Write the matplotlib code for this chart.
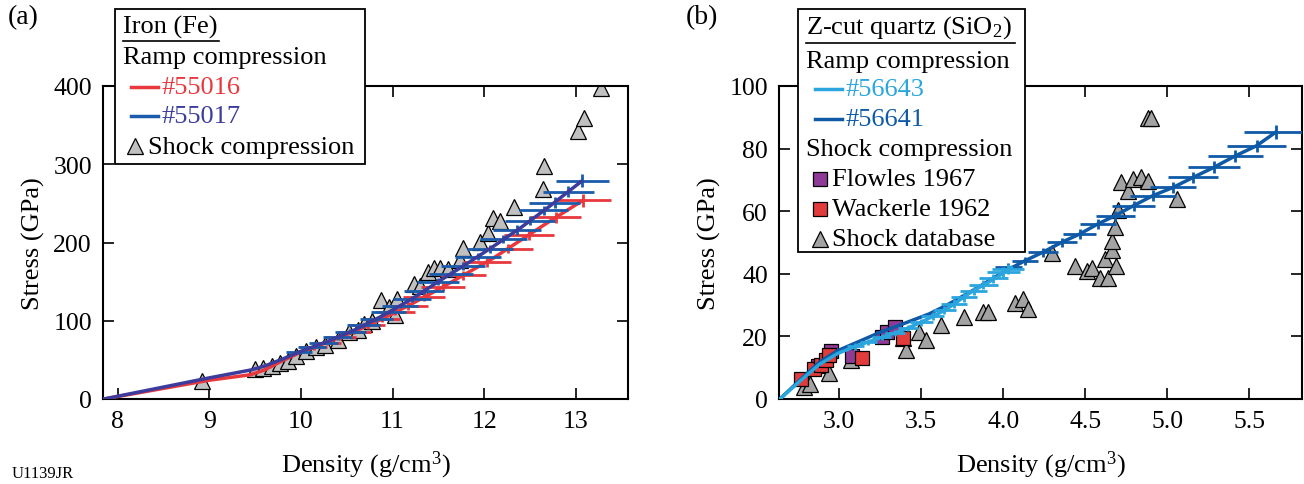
import matplotlib
matplotlib.use("Agg")
import matplotlib.pyplot as plt
from matplotlib.lines import Line2D
from matplotlib.patches import Rectangle

plt.rcParams['font.family'] = ['Liberation Serif', 'DejaVu Serif']
plt.rcParams['mathtext.fontset'] = 'custom'
plt.rcParams['mathtext.rm'] = 'Liberation Serif'
plt.rcParams['mathtext.it'] = 'Liberation Serif:italic'

# ---------------- (a) iron ----------------
fe_dens_55016 = [7.85, 9.0, 9.45, 9.6, 9.8, 10.0, 10.3, 10.6, 10.9, 11.2, 11.5, 11.8, 12.1, 12.4, 12.7, 13.08]
fe_stress_55016 = [0, 24, 31, 37, 49, 60, 73, 87, 103, 121, 140, 160, 180, 203, 226, 254]
fe_dens_55017 = [7.85, 9.0, 9.45, 9.6, 9.8, 10.0, 10.3, 10.6, 10.9, 11.2, 11.5, 11.8, 12.1, 12.4, 12.7, 13.06]
fe_stress_55017 = [0, 27, 37, 42, 51, 61, 74, 89, 107, 127, 150, 172, 195, 219, 245, 278]

fe_bar_dens_55016 = [13.08, 12.78, 12.49, 12.26, 12.03, 11.77, 11.55, 11.34, 11.17, 11.03, 10.88, 10.73, 10.58, 10.43, 10.28, 10.14]
fe_bar_stress_55016 = [254, 232, 210, 192, 175, 158, 143, 130, 119, 111, 102, 94, 86, 79, 72, 66]
fe_bar_xerr_55016 = [0.30, 0.28, 0.27, 0.27, 0.26, 0.25, 0.24, 0.23, 0.22, 0.21, 0.20, 0.19, 0.18, 0.17, 0.16, 0.15]
fe_bar_yerr_55016 = [8, 7, 7, 6, 6, 6, 5, 5, 5, 4, 4, 4, 3, 3, 3, 3]

fe_bar_dens_55017 = [13.07, 12.92, 12.77, 12.65, 12.50, 12.36, 12.21, 12.06, 11.93, 11.77, 11.64, 11.50,
                     11.34, 11.21, 11.08, 10.96, 10.82, 10.68, 10.54, 10.40, 10.25, 10.12, 9.98]
fe_bar_stress_55017 = [279, 265, 251, 241, 228, 216, 204, 192, 182, 170, 160, 150,
                       138, 128, 119, 111, 102, 94, 86, 79, 72, 66, 60]
fe_bar_xerr_55017 = [0.29, 0.28, 0.28, 0.27, 0.27, 0.26, 0.26, 0.25, 0.25, 0.24, 0.24, 0.23,
                     0.22, 0.21, 0.20, 0.19, 0.18, 0.18, 0.17, 0.16, 0.16, 0.15, 0.14]
fe_bar_yerr_55017 = [8, 7, 7, 6, 6, 6, 5, 5, 5, 5, 4, 4, 4, 4, 3, 3, 3, 3, 3, 3, 2, 2, 2]

fe_shock_dens = [8.92, 9.50, 9.59, 9.68, 9.77, 9.86, 9.95, 10.06, 10.17, 10.26, 10.40, 10.53, 10.62,
                 10.69, 10.78, 10.87, 10.96, 11.03, 11.05, 11.23, 11.30, 11.39, 11.45, 11.52, 11.61,
                 11.74, 11.77, 11.95, 12.04, 12.10, 12.17, 12.33, 12.64, 12.65, 13.02, 13.09, 13.27]
fe_shock_stress = [23, 38, 40, 42, 46, 48, 55, 61, 67, 69, 75, 86, 88,
                   96, 100, 126, 117, 107, 128, 147, 145, 162, 168, 168, 166,
                   178, 193, 201, 212, 231, 227, 245, 269, 298, 342, 359, 397]

# ---------------- (b) quartz ----------------
q_dens_56643 = [2.64, 2.78, 2.88, 2.99, 3.11, 3.25, 3.39, 3.5, 3.65, 3.8, 3.95, 4.05]
q_stress_56643 = [0, 6.5, 11, 14.5, 17, 19.5, 22, 24.5, 28.5, 34, 38.5, 42]
q_dens_56641 = [2.64, 2.78, 2.88, 2.99, 3.11, 3.25, 3.39, 3.55, 3.65, 3.8, 4.0, 4.134, 4.242, 4.358,
                4.466, 4.576, 4.683, 4.795, 4.913, 5.035, 5.157, 5.283, 5.415, 5.543, 5.659]
q_stress_56641 = [0, 6.9, 11.7, 15.4, 18.1, 21.3, 24, 27.2, 29.8, 34.2, 40.5, 44.2, 46.9, 50.1,
                  52.7, 55.9, 58.6, 61.8, 65.0, 67.6, 70.8, 74.0, 77.7, 80.9, 85.2]

q_bar_dens_56643 = [3.10, 3.18, 3.26, 3.34, 3.42, 3.50, 3.57, 3.64, 3.70, 3.76, 3.82, 3.88, 3.94, 4.00, 4.03]
q_bar_stress_56643 = [16.8, 18.3, 19.8, 21.2, 22.7, 24.5, 26.5, 28.5, 30.5, 32.5, 34.5, 36.5, 38.5, 40.5, 41.5]
q_bar_xerr_56643 = [0.05, 0.05, 0.06, 0.06, 0.06, 0.07, 0.07, 0.07, 0.08, 0.08, 0.08, 0.09, 0.09, 0.10, 0.10]
q_bar_yerr_56643 = [1, 1, 1, 1, 1, 1.2, 1.2, 1.2, 1.4, 1.4, 1.4, 1.5, 1.5, 1.6, 1.6]

q_bar_dens_56641 = [5.659, 5.543, 5.415, 5.283, 5.157, 5.035, 4.913, 4.795, 4.683, 4.576,
                    4.466, 4.358, 4.242, 4.134, 4.032]
q_bar_stress_56641 = [85.2, 80.9, 77.7, 74.0, 70.8, 67.6, 65.0, 61.8, 58.6, 55.9,
                      52.7, 50.1, 46.9, 44.2, 42.1]
q_bar_xerr_56641 = [0.19, 0.18, 0.17, 0.16, 0.15, 0.14, 0.14, 0.13, 0.12, 0.11,
                    0.10, 0.09, 0.09, 0.08, 0.08]
q_bar_yerr_56641 = [2.2, 2.0, 2.0, 1.9, 1.8, 1.8, 1.7, 1.6, 1.6, 1.5, 1.5, 1.4, 1.4, 1.3, 1.3]

flowles_dens = [2.87, 2.95, 3.08, 3.26, 3.29, 3.34]
flowles_stress = [10.5, 15.2, 13.6, 19.9, 21.5, 23.1]
wackerle_dens = [2.77, 2.85, 2.89, 2.92, 2.94, 3.14, 3.39]
wackerle_stress = [6.3, 9.5, 11, 12.5, 14.2, 13.1, 19.4]

q_shock_dens = [2.786, 2.824, 2.937, 3.076, 3.39, 3.41, 3.49, 3.53, 3.62, 3.76, 3.88, 3.91, 4.07,
                4.12, 4.15, 4.30, 4.44, 4.51, 4.54, 4.59, 4.62, 4.64, 4.66, 4.66, 4.68, 4.69,
                4.70, 4.72, 4.76, 4.79, 4.84, 4.88, 5.06, 4.88, 4.90]
q_shock_stress = [3.7, 4.7, 8.4, 12.6, 19.4, 15.7, 21.5, 18.9, 23.8, 26.2, 27.8, 27.8, 30.7,
                  32.0, 28.6, 46.7, 42.5, 40.9, 42.0, 38.8, 44.6, 38.8, 47.7, 50.4, 55.1, 42.5,
                  60.3, 69.3, 66.6, 70.3, 70.8, 69.8, 64.0, 89.7, 89.7]

red = '#e8383d'
navy = '#3c3c9c'
blue = '#1a5cab'
lblue = '#2aa5de'
dblue = '#0e5aa7'
purple = '#8e3b97'
sqred = '#e23b3b'

W, H = 1304, 485
fig = plt.figure(figsize=(W / 100, H / 100), dpi=100)


def fx(x):
    return x / W


def fy(y):
    return 1 - y / H


axa = fig.add_axes([fx(103), fy(400), (628 - 103) / W, (400 - 87) / H])
axb = fig.add_axes([fx(779), fy(400), (1302 - 779) / W, (400 - 87) / H])

# panel a
axa.plot(fe_shock_dens, fe_shock_stress, '^', ms=11, mfc='#c0c0c0', mec='black', mew=0.9, zorder=2)
axa.errorbar(fe_bar_dens_55016, fe_bar_stress_55016, xerr=fe_bar_xerr_55016, yerr=fe_bar_yerr_55016,
             fmt='none', ecolor=red, elinewidth=2, capsize=0, zorder=3)
axa.plot(fe_dens_55016, fe_stress_55016, color=red, lw=2.5, zorder=3)
axa.errorbar(fe_bar_dens_55017, fe_bar_stress_55017, xerr=fe_bar_xerr_55017, yerr=fe_bar_yerr_55017,
             fmt='none', ecolor=blue, elinewidth=2, capsize=0, zorder=4)
axa.plot(fe_dens_55017, fe_stress_55017, color=navy, lw=2.5, zorder=4)
axa.set_xlim(7.84, 13.57)
axa.set_ylim(0, 400)
axa.set_xticks([8, 9, 10, 11, 12, 13])
axa.set_yticks([0, 100, 200, 300, 400])

# panel b
axb.plot(q_shock_dens, q_shock_stress, '^', ms=11, mfc='#a3a3a3', mec='black', mew=0.9, zorder=2)
axb.plot(flowles_dens, flowles_stress, 's', ms=10, mfc=purple, mec='black', mew=0.9, zorder=2)
axb.plot(wackerle_dens, wackerle_stress, 's', ms=10, mfc=sqred, mec='black', mew=0.9, zorder=2)
axb.errorbar(q_bar_dens_56641, q_bar_stress_56641, xerr=q_bar_xerr_56641, yerr=q_bar_yerr_56641,
             fmt='none', ecolor=dblue, elinewidth=2, capsize=0, zorder=3)
axb.plot(q_dens_56641, q_stress_56641, color=dblue, lw=2.5, zorder=3)
axb.errorbar(q_bar_dens_56643, q_bar_stress_56643, xerr=q_bar_xerr_56643, yerr=q_bar_yerr_56643,
             fmt='none', ecolor=lblue, elinewidth=2, capsize=0, zorder=4)
axb.plot(q_dens_56643, q_stress_56643, color=lblue, lw=2.5, zorder=4)
axb.set_xlim(2.635, 5.82)
axb.set_ylim(0, 100)
axb.set_xticks([3.0, 3.5, 4.0, 4.5, 5.0, 5.5])
axb.set_xticklabels(['3.0', '3.5', '4.0', '4.5', '5.0', '5.5'])
axb.set_yticks([0, 20, 40, 60, 80, 100])

for ax in (axa, axb):
    ax.tick_params(direction='in', top=True, right=True, length=8, width=1.2,
                   labelsize=18.5, pad=8)
    for s in ax.spines.values():
        s.set_linewidth(1.5)
    ax.set_xlabel('Density (g/cm$^3$)', fontsize=19, labelpad=12)
    ax.set_ylabel('Stress (GPa)', fontsize=19, labelpad=6)

fig.text(fx(8), fy(18), '(a)', fontsize=20, va='center', ha='left')
fig.text(fx(686), fy(18), '(b)', fontsize=20, va='center', ha='left')
fig.text(fx(12), fy(474), 'U1139JR', fontsize=12, va='center', ha='left')

# ---- legend (a) ----
fs = 19
fig.add_artist(Rectangle((fx(115), fy(165)), (365 - 115) / W, (165 - 10) / H, transform=fig.transFigure,
                         fill=True, fc='white', ec='black', lw=1.3, zorder=5))
fig.text(fx(123), fy(27), 'Iron (Fe)', fontsize=fs, va='center', ha='left', zorder=6)
fig.add_artist(Line2D([fx(123), fx(219)], [fy(42), fy(42)], color='black', lw=1.2, zorder=6))
fig.text(fx(123), fy(58), 'Ramp compression', fontsize=fs, va='center', ha='left', zorder=6)
fig.add_artist(Line2D([fx(131), fx(158)], [fy(88), fy(88)], color=red, lw=2.5, zorder=6))
fig.text(fx(162), fy(88), '#55016', fontsize=fs, va='center', ha='left', color=red, zorder=6)
fig.add_artist(Line2D([fx(131), fx(158)], [fy(117), fy(117)], color=blue, lw=2.5, zorder=6))
fig.text(fx(162), fy(117), '#55017', fontsize=fs, va='center', ha='left', color=navy, zorder=6)
fig.add_artist(Line2D([fx(135)], [fy(147)], marker='^', ms=11, mfc='#c0c0c0', mec='black', mew=0.9,
                      ls='none', zorder=6))
fig.text(fx(148), fy(148), 'Shock compression', fontsize=fs, va='center', ha='left', zorder=6)

# ---- legend (b) ----
fig.add_artist(Rectangle((fx(798), fy(253)), (1025 - 798) / W, (253 - 10) / H, transform=fig.transFigure,
                         fill=True, fc='white', ec='black', lw=1.3, zorder=5))
fig.text(fx(806), fy(28), 'Z-cut quartz (SiO$_2$)', fontsize=fs, va='center', ha='left', zorder=6)
fig.add_artist(Line2D([fx(806), fx(1015)], [fy(44), fy(44)], color='black', lw=1.2, zorder=6))
fig.text(fx(806), fy(62), 'Ramp compression', fontsize=fs, va='center', ha='left', zorder=6)
fig.add_artist(Line2D([fx(815), fx(842)], [fy(90), fy(90)], color=lblue, lw=2.5, zorder=6))
fig.text(fx(845), fy(90), '#56643', fontsize=fs, va='center', ha='left', color=lblue, zorder=6)
fig.add_artist(Line2D([fx(815), fx(842)], [fy(120), fy(120)], color=dblue, lw=2.5, zorder=6))
fig.text(fx(845), fy(120), '#56641', fontsize=fs, va='center', ha='left', color=dblue, zorder=6)
fig.text(fx(806), fy(150), 'Shock compression', fontsize=fs, va='center', ha='left', zorder=6)
fig.add_artist(Line2D([fx(820)], [fy(180)], marker='s', ms=10, mfc=purple, mec='black', mew=0.9,
                      ls='none', zorder=6))
fig.text(fx(832), fy(180), 'Flowles 1967', fontsize=fs, va='center', ha='left', zorder=6)
fig.add_artist(Line2D([fx(820)], [fy(210)], marker='s', ms=10, mfc=sqred, mec='black', mew=0.9,
                      ls='none', zorder=6))
fig.text(fx(832), fy(210), 'Wackerle 1962', fontsize=fs, va='center', ha='left', zorder=6)
fig.add_artist(Line2D([fx(820)], [fy(240)], marker='^', ms=11, mfc='#a3a3a3', mec='black', mew=0.9,
                      ls='none', zorder=6))
fig.text(fx(832), fy(240), 'Shock database', fontsize=fs, va='center', ha='left', zorder=6)

fig.savefig('out.png', dpi=100)
